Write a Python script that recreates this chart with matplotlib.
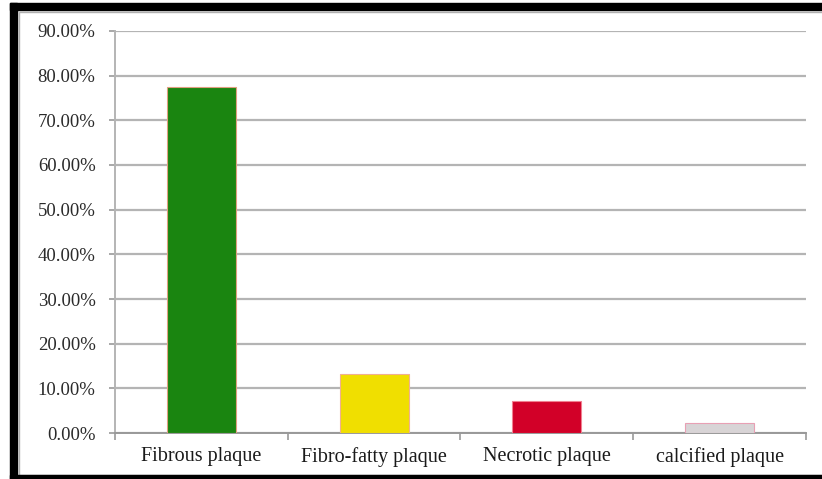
import matplotlib.pyplot as plt
from matplotlib.patches import Rectangle
from matplotlib.ticker import FuncFormatter, FixedLocator

# plaque types and their share
categories = ['Fibrous plaque', 'Fibro-fatty plaque', 'Necrotic plaque', 'calcified plaque']
shares = [0.775, 0.132, 0.072, 0.023]
bar_colors = ['#1a8510', '#f0df00', '#d20028', '#d8d4d6']
edge_colors = ['#e0a080', '#f0b090', '#f08090', '#e8a0b4']

plt.rcParams['font.family'] = ['Liberation Serif', 'DejaVu Serif']

fig = plt.figure(figsize=(8.22, 4.79), dpi=100)
ax = fig.add_axes([0.1399, 0.096, 0.8406, 0.8393])

x = range(len(categories))
ax.bar(x, shares, width=0.4, color=bar_colors, edgecolor=edge_colors, linewidth=0.8, zorder=3)

ax.set_xlim(-0.5, len(categories) - 0.5)
ax.set_ylim(0, 0.9)
ax.yaxis.set_major_locator(FixedLocator([i / 10 for i in range(10)]))
ax.yaxis.set_major_formatter(FuncFormatter(lambda v, p: '%.2f%%' % (v * 100)))
ax.grid(axis='y', color='#b4b4b4', linewidth=1.6, zorder=0)

ax.set_xticks(list(x))
ax.set_xticklabels(categories, fontsize=14.5, color='#1a1a1a')
ax.set_xticks([i + 0.5 for i in range(-1, len(categories))], minor=True)
ax.tick_params(axis='x', which='major', length=0, pad=10)
ax.tick_params(axis='x', which='minor', length=5, color='#999999', width=1.2)
ax.tick_params(axis='y', length=4, color='#999999', width=1.2, labelsize=13.5,
               labelcolor='#2a2a2a', pad=10)

for side in ['top', 'right']:
    ax.spines[side].set_visible(False)
ax.spines['left'].set_color('#b4b4b4')
ax.spines['left'].set_linewidth(1.4)
ax.spines['bottom'].set_color('#999999')
ax.spines['bottom'].set_linewidth(1.4)

# outer frame
W, H = 822, 479
fig.patches.append(Rectangle((10 / W, 0), 7 / W, 1 - 3 / H, transform=fig.transFigure,
                             color='black', zorder=10))
fig.patches.append(Rectangle((10 / W, 1 - 10 / H), 1, 7 / H, transform=fig.transFigure,
                             color='black', zorder=10))
fig.patches.append(Rectangle((10 / W, 0), 1, 4 / H, transform=fig.transFigure,
                             color='black', zorder=10))
fig.patches.append(Rectangle((19 / W, 4 / H), 1, 1 - 16 / H, transform=fig.transFigure,
                             fill=False, edgecolor='#b0b0b0', linewidth=1, zorder=9))

fig.savefig('out.png', dpi=100)
